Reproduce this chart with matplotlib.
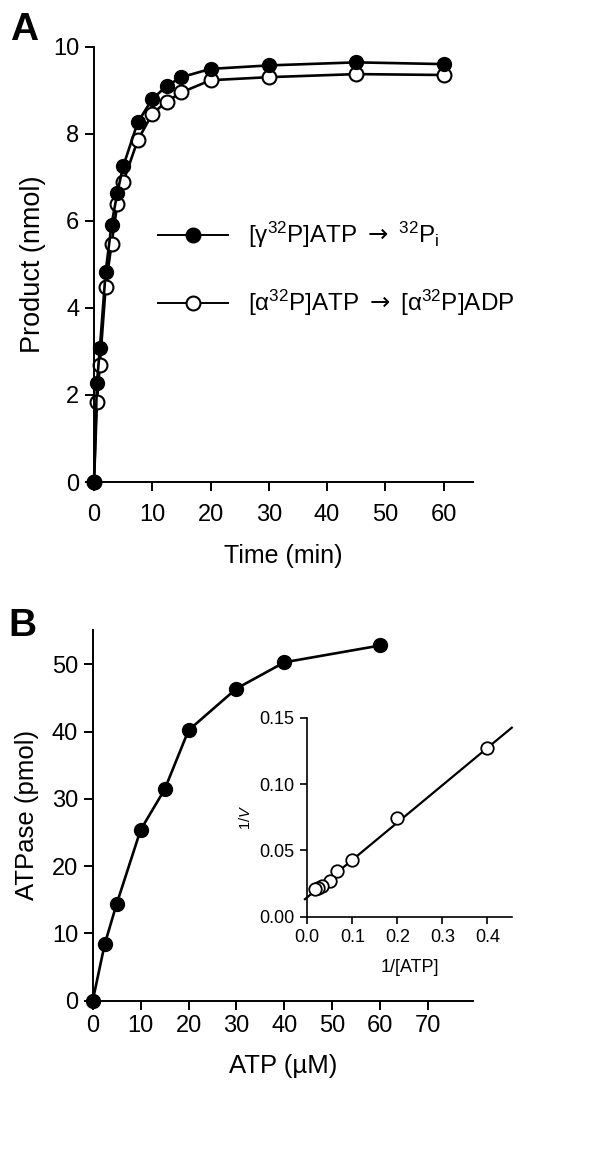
import numpy as np
import matplotlib
matplotlib.use("Agg")
import matplotlib.pyplot as plt

plt.rcParams['font.family'] = ['Liberation Sans', 'DejaVu Sans']
plt.rcParams['mathtext.fontset'] = 'custom'
plt.rcParams['mathtext.rm'] = 'Liberation Sans'
plt.rcParams['mathtext.it'] = 'Liberation Sans:italic'
plt.rcParams['mathtext.sf'] = 'DejaVu Sans'

# Panel A: time course
time_min = [0, 0.5, 1, 2, 3, 4, 5, 7.5, 10, 12.5, 15, 20, 30, 45, 60]
pi_nmol = [0, 2.27, 3.07, 4.83, 5.91, 6.65, 7.25, 8.26, 8.80, 9.10, 9.30, 9.49, 9.57, 9.64, 9.60]
adp_nmol = [0, 1.83, 2.69, 4.49, 5.46, 6.39, 6.89, 7.85, 8.46, 8.74, 8.95, 9.23, 9.30, 9.37, 9.35]

# Panel B: ATP dependence
atp_um = [0, 2.5, 5, 10, 15, 20, 30, 40, 60]
atpase_pmol = [0, 8.4, 14.4, 25.4, 31.4, 40.2, 46.4, 50.3, 52.8]

# inset: double reciprocal
inv_atp = [0.4, 0.2, 0.1, 0.0667, 0.05, 0.0333, 0.025, 0.0167]
inv_v = [0.1274, 0.0746, 0.0427, 0.0344, 0.0269, 0.0234, 0.0214, 0.0206]
fit_intercept = 0.0146
fit_slope = 0.2817

fig = plt.figure(figsize=(6, 11.76), dpi=100)

lw = 1.9
spine_w = 1.4


def style(ax, fs):
    for s in ['top', 'right']:
        ax.spines[s].set_visible(False)
    for s in ['left', 'bottom']:
        ax.spines[s].set_linewidth(spine_w)
    ax.tick_params(direction='out', length=6.5, width=spine_w, labelsize=fs, pad=4)


# ---- A ----
axA = fig.add_axes([0.1567, 0.5901, 0.788 - 0.1567, 0.9603 - 0.5901])
axA.plot(time_min, adp_nmol, '-o', color='black', lw=lw, ms=10, mfc='white', mec='black', mew=1.5, clip_on=False)
axA.plot(time_min, pi_nmol, '-o', color='black', lw=lw, ms=10, mfc='black', mec='black', clip_on=False)
axA.set_xlim(0, 65)
axA.set_ylim(0, 10)
axA.set_xticks(range(0, 61, 10))
axA.set_yticks(range(0, 11, 2))
style(axA, 17)
axA.tick_params(axis='x', pad=9)
axA.set_xlabel('Time (min)', fontsize=18, labelpad=13)
axA.set_ylabel('Product (nmol)', fontsize=19.5, labelpad=5)

# legend drawn by hand
arrow = r'$\mathsf{\rightarrow}$'
legend_rows = [
    ('black', '[γ$^{32}$P]ATP ' + arrow + ' $^{32}$P$_{\\mathrm{i}}$', 5.68),
    ('white', '[α$^{32}$P]ATP ' + arrow + ' [α$^{32}$P]ADP', 4.11),
]
for mfc, label, yv in legend_rows:
    axA.plot([11, 23], [yv, yv], '-', color='black', lw=1.4)
    axA.plot([17], [yv], 'o', color='black', ms=10, mfc=mfc, mec='black', mew=1.5)
    axA.text(26.5, yv, label, fontsize=17.5, va='center', ha='left', clip_on=False)

fig.text(0.016, 0.990, 'A', fontsize=28, fontweight='bold', va='top', ha='left')

# ---- B ----
axB = fig.add_axes([0.1545, 0.149, 0.788 - 0.1545, 0.4643 - 0.149])
axB.plot(atp_um, atpase_pmol, '-o', color='black', lw=lw, ms=10, mfc='black', clip_on=False)
axB.set_xlim(0, 79.3)
axB.set_ylim(0, 55.1)
axB.set_xticks(range(0, 71, 10))
axB.set_yticks(range(0, 51, 10))
style(axB, 17)
axB.set_xlabel('ATP (µM)', fontsize=18.5, labelpad=12)
axB.set_ylabel('ATPase (pmol)', fontsize=18.5, labelpad=9)

fig.text(0.014, 0.483, 'B', fontsize=28, fontweight='bold', va='top', ha='left')

# ---- inset ----
axI = fig.add_axes([0.512, 0.2205, 0.853 - 0.512, 0.3897 - 0.2205])
axI.patch.set_alpha(0)
xfit = np.array([-0.005, 0.454])
axI.plot(xfit, fit_intercept + fit_slope * xfit, '-', color='black', lw=1.6, clip_on=False)
axI.plot(inv_atp, inv_v, 'o', ms=9, mfc='white', mec='black', mew=1.3, clip_on=False)
axI.set_xlim(0, 0.454)
axI.set_ylim(0, 0.15)
axI.set_xticks([0.0, 0.1, 0.2, 0.3, 0.4])
axI.set_xticklabels(['0.0', '0.1', '0.2', '0.3', '0.4'])
axI.set_yticks([0.0, 0.05, 0.10, 0.15])
axI.set_yticklabels(['0.00', '0.05', '0.10', '0.15'])
style(axI, 13)
axI.tick_params(length=5, width=1.2)
for s in ['left', 'bottom']:
    axI.spines[s].set_linewidth(1.2)
axI.set_xlabel('1/[ATP]', fontsize=13, labelpad=9)
axI.set_ylabel('1/$\\mathit{V}$', fontsize=10.5, labelpad=5)

fig.savefig('out.png', dpi=100)
